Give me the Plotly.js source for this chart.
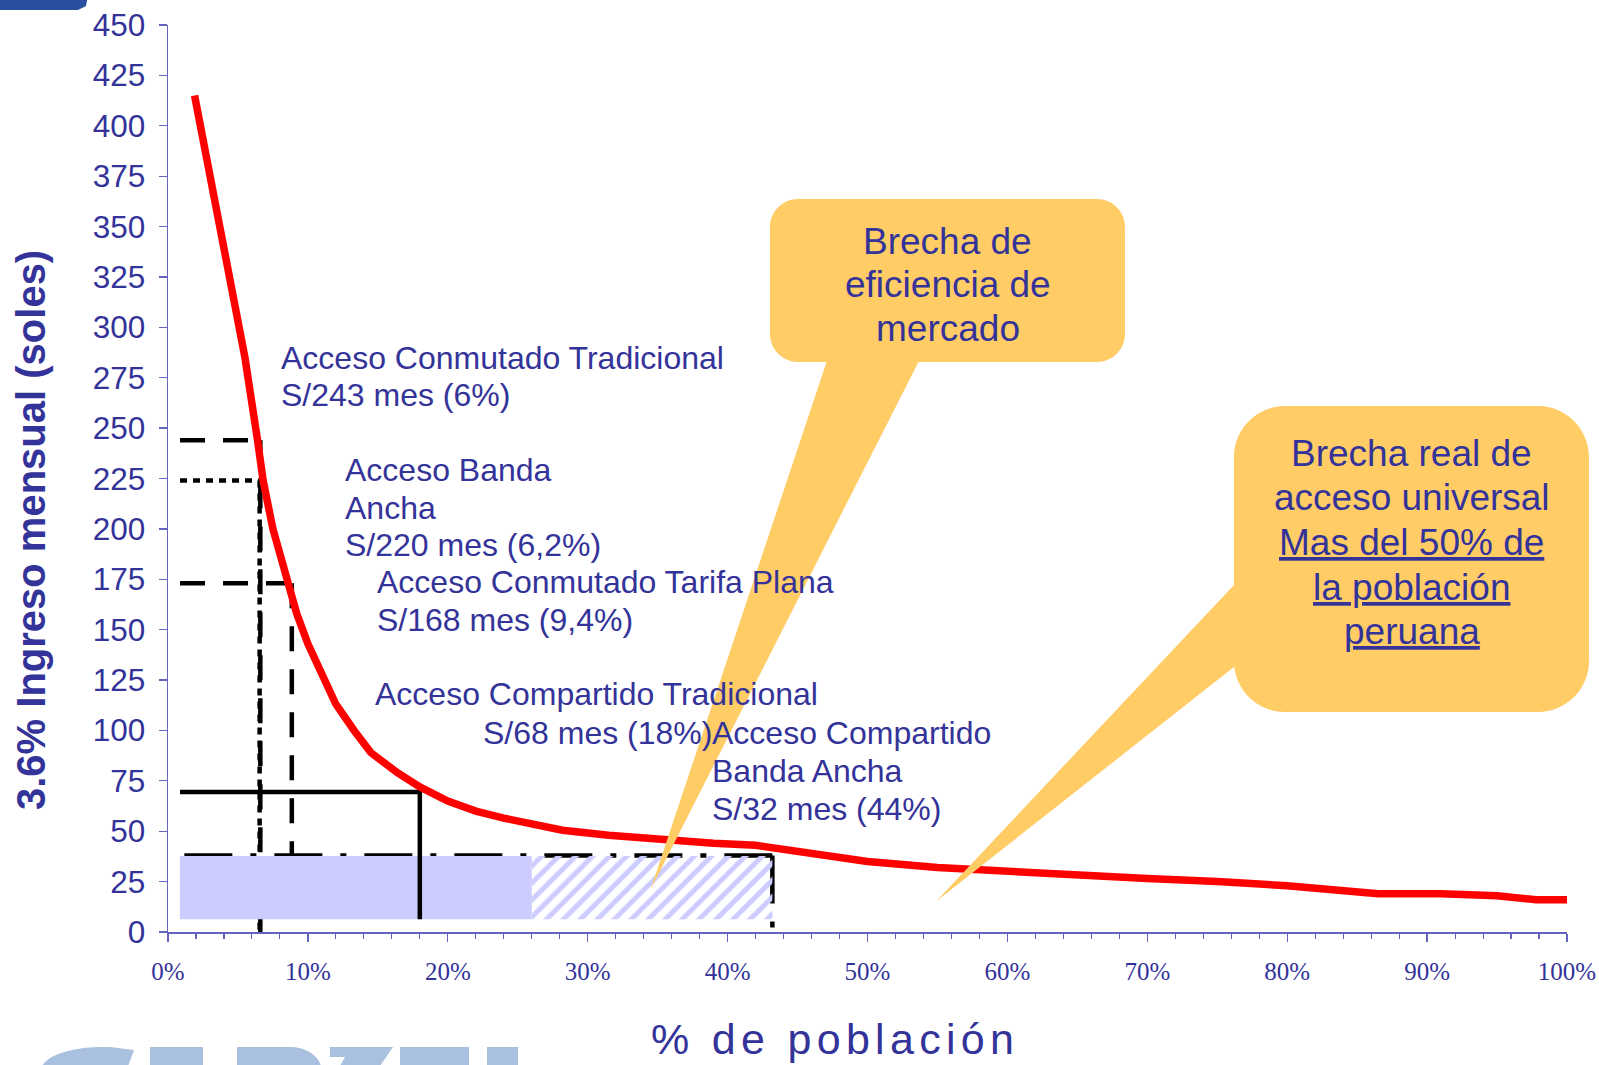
<!DOCTYPE html>
<html>
<head>
<meta charset="utf-8">
<script src="https://cdn.plot.ly/plotly-3.0.1.min.js"></script>
<style>html,body{margin:0;padding:0;background:#fff;}#chart{width:1599px;height:1065px;}</style>
</head>
<body>
<div id="chart"></div>
<script>
// ---------- DATA ----------
// Red curve: % de población vs ingreso mensual (soles)
const poblacionPct = [1.9, 3.0, 4.2, 5.5, 6.4, 6.8, 7.5, 8.6, 9.2, 10.0, 11.0, 12.0, 13.3, 14.5, 16.4, 18.0, 20.0, 22.0, 24.0, 26.0, 28.2, 31.5, 35.5, 39.0, 42.0, 45.0, 50.0, 55.0, 60.0, 65.0, 70.0, 75.0, 80.0, 86.5, 91.0, 95.0, 97.8, 100.0];
const ingresoSoles = [415, 375, 330, 285, 244, 224, 200, 173, 158, 143, 127, 113, 100, 89, 79, 72, 65, 60, 56.5, 53.5, 50.5, 48, 45.5, 44, 43, 40, 35, 32, 30, 28, 26.5, 25, 23, 19, 19, 18, 16, 16];

// Access reference levels (horizontal level, vertical position, vertical bottom)
const accesoNombres = ['Conmutado Tradicional', 'Banda Ancha', 'Conmutado Tarifa Plana', 'Compartido Tradicional', 'Compartido Banda Ancha'];
const accesoIngreso = [244, 224, 173, 69.5, 38];
const accesoPoblacion = [6.6, 6.55, 8.85, 18.0, 43.2];
const accesoBase = [0, 0, 5, 6.3, 0];
const lineaInicio = 0.86;

// Gap areas (solid part and hatched part)
const brechaX = [0.85, 26.0, 43.2];
const brechaY = [6.3, 37.7];

// Axis ticks
const xTickVals = [0, 10, 20, 30, 40, 50, 60, 70, 80, 90, 100];
const xTickText = ['0%', '10%', '20%', '30%', '40%', '50%', '60%', '70%', '80%', '90%', '100%'];
const yTickVals = [0, 25, 50, 75, 100, 125, 150, 175, 200, 225, 250, 275, 300, 325, 350, 375, 400, 425, 450];

// Texts
const labelLines = [
  'Acceso Conmutado Tradicional', 'S/243 mes (6%)',
  'Acceso Banda', 'Ancha', 'S/220 mes (6,2%)',
  'Acceso Conmutado Tarifa Plana', 'S/168 mes (9,4%)',
  'Acceso Compartido Tradicional', 'S/68 mes (18%)',
  'Acceso Compartido', 'Banda Ancha', 'S/32 mes (44%)'
];
const bubble1Lines = ['Brecha de', 'eficiencia de', 'mercado'];
const bubble2Lines = ['Brecha real de', 'acceso universal', '<u>Mas del 50% de</u>', '<u>la población</u>', '<u>peruana</u>'];

// ---------- LAYOUT HELPERS ----------
const W = 1599, H = 1065;
const PL = 168, PR = 1567, PT = 25, PB = 932;
const px = x => (x - PL) / (PR - PL);
const py = y => (PB - y) / (PB - PT);
const TXT = '#333399';
const AXC = '#6464c0';
const SANS = 'Liberation Sans, Arial, sans-serif';
const SERIF = 'Liberation Serif, Times New Roman, serif';

function P(x, y) { return px(x).toFixed(5) + ',' + py(y).toFixed(5); }
const K = 0.5523;
function roundRectPath(L, T, R, B, r, extra) {
  let d = 'M' + P(L + r, T) + ' L' + P(R - r, T);
  d += ' C' + P(R - r + K * r, T) + ' ' + P(R, T + r - K * r) + ' ' + P(R, T + r);
  d += ' L' + P(R, B - r);
  d += ' C' + P(R, B - r + K * r) + ' ' + P(R - r + K * r, B) + ' ' + P(R - r, B);
  if (extra && extra.bottom) {
    const e = extra.bottom;
    d += ' L' + P(e[0], B) + ' L' + P(e[2], e[3]) + ' L' + P(e[1], B);
  }
  d += ' L' + P(L + r, B);
  d += ' C' + P(L + r - K * r, B) + ' ' + P(L, B - r + K * r) + ' ' + P(L, B - r);
  if (extra && extra.left) {
    const e = extra.left;
    d += ' L' + P(L, e[0]) + ' L' + P(e[2], e[3]) + ' L' + P(L, e[1]);
  }
  d += ' L' + P(L, T + r);
  d += ' C' + P(L, T + r - K * r) + ' ' + P(L + r - K * r, T) + ' ' + P(L + r, T) + ' Z';
  return d;
}

// ---------- TRACES ----------
const traces = [];
const dashes = ['25px,18px', '7px,6px', '25px,18px', 'solid', '48px,18px,6px,18px'];
const LW = 4.5;
function line(xs, ys, dash) {
  return {type: 'scatter', mode: 'lines', x: xs, y: ys, hoverinfo: 'skip',
          line: {color: '#000', width: LW, dash: dash}};
}
[0, 1, 2].forEach(i => {
  traces.push(line([accesoPoblacion[i], accesoPoblacion[i]], [accesoIngreso[i], accesoBase[i]], dashes[i]));
});
[0, 1, 2].forEach(i => {
  traces.push(line([lineaInicio, accesoPoblacion[i]], [accesoIngreso[i], accesoIngreso[i]], dashes[i]));
});
traces.push(line([accesoPoblacion[4], accesoPoblacion[4]], [accesoIngreso[4], accesoBase[4]], dashes[4]));
traces.push(line([accesoPoblacion[4], lineaInicio], [accesoIngreso[4], accesoIngreso[4]], dashes[4]));
traces.push({type: 'scatter', mode: 'lines', hoverinfo: 'skip',
  x: [brechaX[0], brechaX[1], brechaX[1], brechaX[0], brechaX[0]],
  y: [brechaY[0], brechaY[0], brechaY[1], brechaY[1], brechaY[0]],
  fill: 'toself', fillcolor: '#CCCCFF', line: {width: 0, color: 'rgba(0,0,0,0)'}});
traces.push({type: 'scatter', mode: 'lines', hoverinfo: 'skip',
  x: [brechaX[1], brechaX[2], brechaX[2], brechaX[1], brechaX[1]],
  y: [brechaY[0], brechaY[0], brechaY[1], brechaY[1], brechaY[0]],
  fill: 'toself', fillcolor: 'rgba(255,255,255,0)',
  fillpattern: {shape: '/', fgcolor: '#CCCCFF', bgcolor: 'rgba(255,255,255,0)', size: 12, solidity: 0.42},
  line: {width: 0, color: 'rgba(0,0,0,0)'}});
traces.push(line([lineaInicio, accesoPoblacion[3], accesoPoblacion[3]], [accesoIngreso[3], accesoIngreso[3], accesoBase[3]], dashes[3]));
traces.push({type: 'scatter', mode: 'lines', x: poblacionPct, y: ingresoSoles, hoverinfo: 'skip',
  line: {color: '#FF0000', width: 7.5}});

// ---------- SHAPES ----------
const ORANGE = '#FFCC66';
const shapes = [
  {type: 'path', xref: 'paper', yref: 'paper', layer: 'above', fillcolor: ORANGE, line: {width: 0},
   path: roundRectPath(770, 199, 1125, 362, 28, {bottom: [918.5, 826.6, 650.6, 889.5]})},
  {type: 'path', xref: 'paper', yref: 'paper', layer: 'above', fillcolor: ORANGE, line: {width: 0},
   path: roundRectPath(1234, 406, 1589, 712, 51, {left: [667, 585, 936, 901.5]})},
  {type: 'path', xref: 'paper', yref: 'paper', layer: 'above', fillcolor: '#2a4f9e', line: {width: 0},
   path: 'M' + P(-5, -5) + ' L' + P(88, -5) + ' L' + P(86, 6) + ' L' + P(78, 10) + ' L' + P(-5, 10) + ' Z'},
];
const WM = '#a9c1df';
const wmParts = [
  'M' + P(42, 1066) + ' C' + P(50, 1052) + ' ' + P(80, 1046) + ' ' + P(110, 1047) + ' L' + P(134, 1050) + ' L' + P(128, 1066) + ' Z',
  'M' + P(150, 1047) + ' L' + P(203, 1047) + ' L' + P(203, 1066) + ' L' + P(150, 1066) + ' Z',
  'M' + P(237, 1047) + ' L' + P(290, 1047) + ' C' + P(305, 1047) + ' ' + P(318, 1055) + ' ' + P(321, 1066) + ' L' + P(237, 1066) + ' Z',
  'M' + P(330, 1047) + ' L' + P(393, 1047) + ' L' + P(380, 1066) + ' L' + P(340, 1066) + ' L' + P(345, 1057) + ' L' + P(330, 1057) + ' Z',
  'M' + P(400, 1047) + ' L' + P(469, 1047) + ' L' + P(469, 1066) + ' L' + P(400, 1066) + ' Z',
  'M' + P(487, 1047) + ' L' + P(518, 1047) + ' L' + P(518, 1066) + ' L' + P(487, 1066) + ' Z'
];
wmParts.forEach(d => shapes.push({type: 'path', xref: 'paper', yref: 'paper', layer: 'below', fillcolor: WM, line: {width: 0}, path: d}));

// ---------- ANNOTATIONS ----------
const annotations = [];
function ann(text, x, y, size, anchor, extra) {
  annotations.push(Object.assign({text: text, x: px(x), y: py(y), xref: 'paper', yref: 'paper',
    showarrow: false, xanchor: anchor || 'left', yanchor: 'middle', align: anchor === 'center' ? 'center' : 'left',
    borderpad: 0, font: {family: SANS, size: size, color: TXT}}, extra || {}));
}
const labelPos = [[280, 358], [280, 395], [344, 470], [344, 508], [344, 545], [376, 582], [376, 620],
                  [374, 694], [482, 733], [711, 733], [711, 771], [711, 809]];
labelLines.forEach((t, i) => ann(t, labelPos[i][0], labelPos[i][1], 32));
const b1y = [241, 284.5, 328.5];
bubble1Lines.forEach((t, i) => ann(t, 947.5, b1y[i], 37, 'center'));
const b2y = [453, 497.5, 542.5, 587, 631];
bubble2Lines.forEach((t, i) => ann(t, 1411.5, b2y[i], 37, 'center'));
ann('<b>3.6% Ingreso mensual (soles)</b>', 31, 530, 40, 'center', {textangle: -90});
ann('<span style="letter-spacing:5.3px">% de población</span>', 835, 1039, 43, 'center');

// ---------- LAYOUT ----------
const layout = {
  width: W, height: H,
  margin: {l: PL, r: W - PR, t: PT, b: H - PB, pad: 0},
  paper_bgcolor: '#ffffff', plot_bgcolor: '#ffffff',
  showlegend: false, hovermode: false,
  font: {family: SANS, color: TXT},
  xaxis: {
    range: [0, 100], showgrid: false, zeroline: false,
    showline: true, linecolor: AXC, linewidth: 1.5,
    tickmode: 'array', tickvals: xTickVals, ticktext: xTickText,
    ticks: 'outside', ticklen: 8, tickwidth: 1.3, tickcolor: AXC,
    tickfont: {family: SERIF, size: 25, color: TXT},
    ticklabelstandoff: 8,
    minor: {dtick: 2, tick0: 0, ticks: 'outside', ticklen: 5.5, tickwidth: 1.1, tickcolor: AXC, showgrid: false}
  },
  yaxis: {
    range: [0, 450], showgrid: false, zeroline: false,
    showline: true, linecolor: AXC, linewidth: 1.5,
    tickmode: 'array', tickvals: yTickVals, ticktext: yTickVals.map(String),
    ticks: 'outside', ticklen: 8, tickwidth: 1.3, tickcolor: AXC,
    tickfont: {family: SANS, size: 31.5, color: TXT},
    ticklabelstandoff: 7
  },
  shapes: shapes,
  annotations: annotations
};

Plotly.newPlot('chart', traces, layout, {staticPlot: true, displayModeBar: false});
</script>
</body>
</html>
